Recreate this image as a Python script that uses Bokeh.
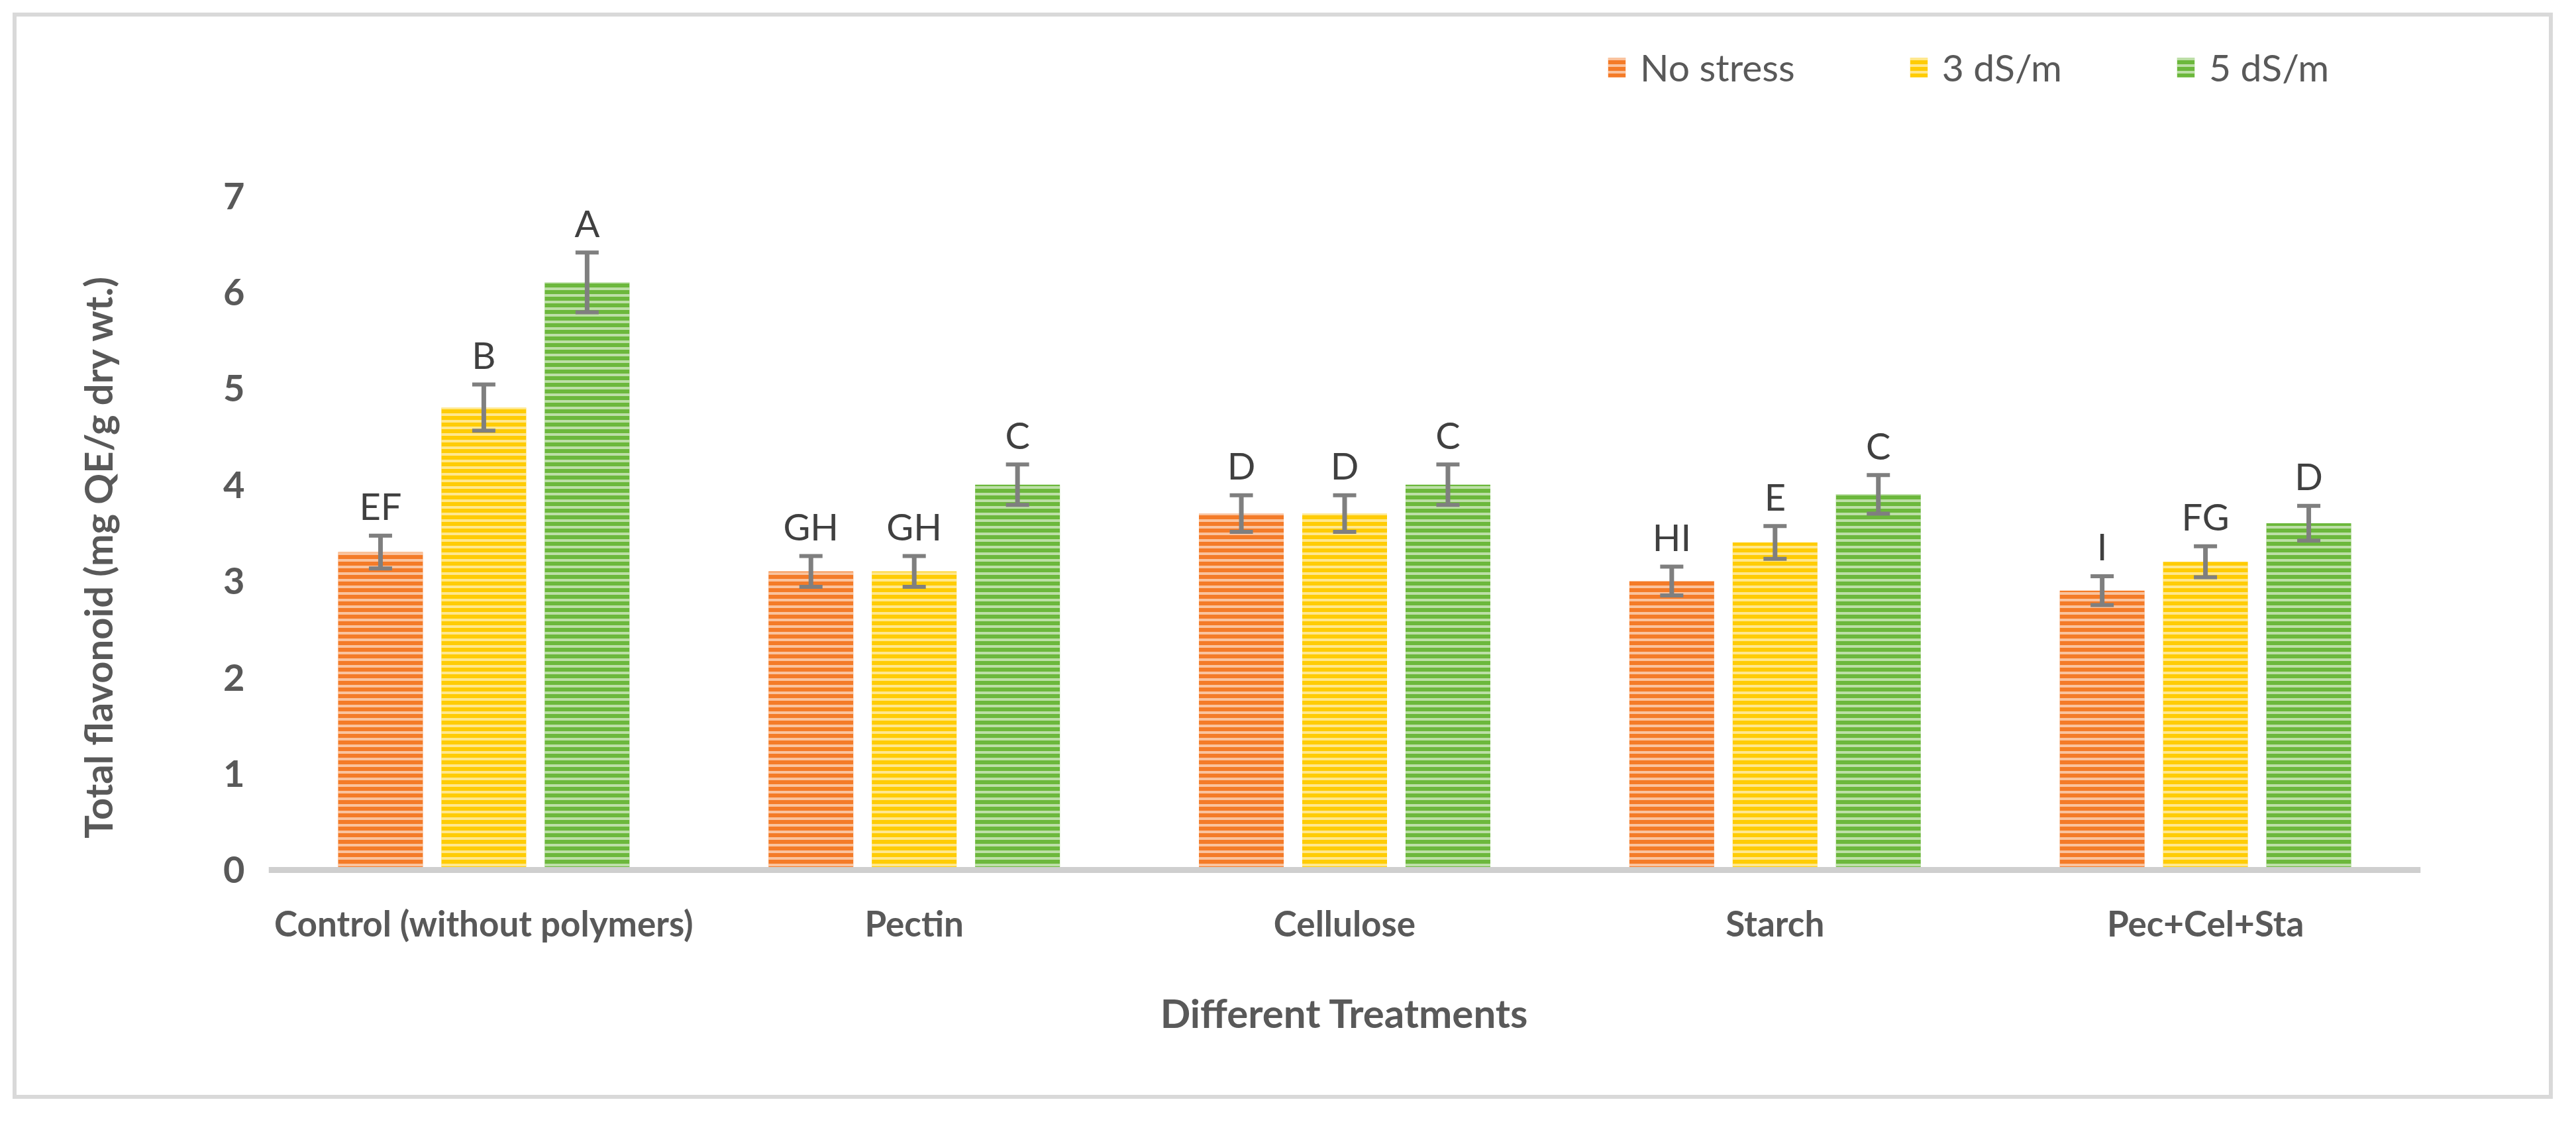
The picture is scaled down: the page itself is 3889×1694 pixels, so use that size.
from bokeh.plotting import figure
from bokeh.models import (ColumnDataSource, FactorRange, Range1d, FixedTicker,
                          Legend, LegendItem)
from bokeh.transform import dodge
from bokeh.core.properties import value
from bokeh.embed import file_html
from bokeh.resources import INLINE

# ---------------- data ----------------
treatments = ["Control (without polymers)", "Pectin", "Cellulose", "Starch", "Pec+Cel+Sta"]
series_names = ["No stress", "3 dS/m", "5 dS/m"]

no_stress = [3.3, 3.1, 3.7, 3.0, 2.9]
ds3 = [4.8, 3.1, 3.7, 3.4, 3.2]
ds5 = [6.1, 4.0, 4.0, 3.9, 3.6]

err_no_stress = [0.17, 0.16, 0.19, 0.15, 0.15]
err_ds3 = [0.24, 0.16, 0.19, 0.17, 0.16]
err_ds5 = [0.31, 0.21, 0.21, 0.20, 0.18]

letters_no_stress = ["EF", "GH", "D", "HI", "I"]
letters_ds3 = ["B", "GH", "D", "E", "FG"]
letters_ds5 = ["A", "C", "C", "C", "D"]

y_ticks = [0, 1, 2, 3, 4, 5, 6, 7]
y_label = "Total flavonoid (mg QE/g dry wt.)"
x_label = "Different Treatments"

# ---------------- style ----------------
FONT = "Lato"
TXT = "#595959"
colors = ["#F47B28", "#FFCC05", "#6CB83C"]
offsets = [-0.24, 0.0, 0.24]
BAR_W = 0.197

W, H = 3873, 1678
# the frame reaches below zero so that the y-axis title is centred where the
# reference has it; the category axis sits at y = 0
p = figure(x_range=FactorRange(factors=treatments, range_padding=0),
           y_range=Range1d(-2.18, 8.685),
           width=W, height=H, output_backend="svg", toolbar_location=None,
           min_border_left=405, min_border_right=219,
           min_border_top=50, min_border_bottom=48)
p.outline_line_color = None
p.xgrid.grid_line_color = None
p.ygrid.grid_line_color = None
p.background_fill_color = None
p.border_fill_color = None
# light grey chart-area border (drawn inside the element)
p.styles = {"outline": "6px solid #D9D9D9", "outline-offset": "-25px"}

series = [
    (series_names[0], no_stress, err_no_stress, letters_no_stress),
    (series_names[1], ds3, err_ds3, letters_ds3),
    (series_names[2], ds5, err_ds5, letters_ds5),
]

items = []
for (name, vals, errs, letters), off, col in zip(series, offsets, colors):
    src = ColumnDataSource(dict(
        cat=treatments, val=vals,
        upper=[v + e for v, e in zip(vals, errs)],
        lower=[v - e for v, e in zip(vals, errs)],
        letter=letters))
    xd = dodge("cat", off, range=p.x_range)
    r = p.vbar(x=xd, top="val", width=BAR_W, source=src,
               fill_color=col, line_color=None,
               hatch_pattern="horizontal_line", hatch_color="white",
               hatch_alpha=0.55, hatch_scale=10, hatch_weight=4)
    p.segment(x0=xd, y0="lower", x1=xd, y1="upper", source=src,
              line_color="#7F7F7F", line_width=7)
    p.scatter(x=xd, y="upper", source=src, marker="dash", size=35,
              line_color="#7F7F7F", line_width=6)
    p.scatter(x=xd, y="lower", source=src, marker="dash", size=35,
              line_color="#7F7F7F", line_width=6)
    p.text(x=xd, y="upper", text="letter", source=src,
           text_align="center", text_baseline="alphabetic", y_offset=-45,
           text_font=value(FONT), text_font_size="56px", text_color="#404040")
    items.append(LegendItem(label=name, renderers=[r]))

legend = Legend(items=items, orientation="horizontal", location=(2019, 1495),
                glyph_width=33, glyph_height=37, label_standoff=19, spacing=170,
                padding=0, margin=0, border_line_color=None,
                background_fill_alpha=0,
                label_text_font=FONT, label_text_font_size="57px",
                label_text_color=TXT)
p.add_layout(legend, "center")

# axes
xa = p.xaxis[0]
xa.fixed_location = 0
xa.axis_line_color = "#CFCFCF"
xa.axis_line_width = 9
xa.major_tick_line_color = None
xa.minor_tick_line_color = None
xa.major_label_standoff = 43
xa.major_label_text_font = FONT
xa.major_label_text_font_style = "bold"
xa.major_label_text_font_size = "53px"
xa.major_label_text_color = TXT
xa.axis_label = x_label
xa.axis_label_standoff = 64
xa.axis_label_text_font = FONT
xa.axis_label_text_font_style = "bold"
xa.axis_label_text_font_size = "60px"
xa.axis_label_text_color = TXT

ya = p.yaxis[0]
ya.ticker = FixedTicker(ticks=y_ticks)
ya.axis_line_color = None
ya.major_tick_line_color = None
ya.minor_tick_line_color = None
ya.major_label_standoff = 30
ya.major_label_text_font = FONT
ya.major_label_text_font_style = "bold"
ya.major_label_text_font_size = "56px"
ya.major_label_text_color = TXT
ya.axis_label = y_label
ya.axis_label_standoff = 152
ya.axis_label_text_font = FONT
ya.axis_label_text_font_style = "bold"
ya.axis_label_text_font_size = "58px"
ya.axis_label_text_color = TXT

open("out.html", "w").write(file_html(p, INLINE))
